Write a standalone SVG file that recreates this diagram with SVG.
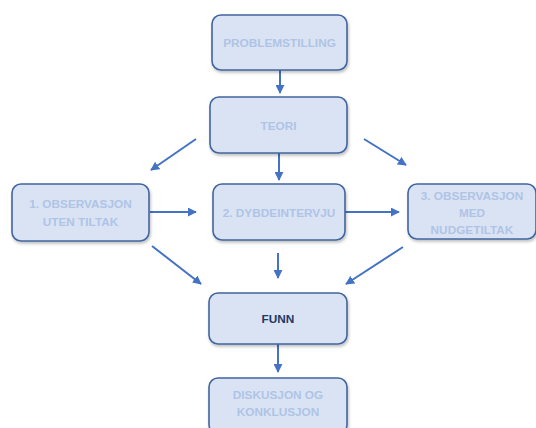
<svg xmlns="http://www.w3.org/2000/svg" width="536" height="428" viewBox="0 0 536 428">
  <defs>
    <marker id="arrow" viewBox="0 0 10 10" refX="9" refY="5" markerWidth="4.5" markerHeight="4.5" orient="auto" markerUnits="strokeWidth">
      <path d="M0,0 L10,5 L0,10 z" fill="#4472c4"/>
    </marker>
    <filter id="shadow" x="-10%" y="-10%" width="125%" height="130%">
      <feDropShadow dx="1" dy="2" stdDeviation="1.5" flood-color="#000" flood-opacity="0.25"/>
    </filter>
  </defs>
  <style>
    .box { fill: #dae3f3; stroke: #41659f; stroke-width: 1.6; filter: url(#shadow); }
    .lbl { font-family: "Liberation Sans", Arial, sans-serif; font-weight: bold; font-size: 11.8px; fill: #afc3e6; text-anchor: middle; }
    .dark { fill: #1f3864; }
    .edge { stroke: #4472c4; stroke-width: 2; fill: none; marker-end: url(#arrow); }
  </style>
  <rect width="536" height="428" fill="#ffffff"/>

  <g id="connectors">
    <line class="edge" x1="280" y1="70" x2="280" y2="93"/>
    <line class="edge" x1="279" y1="153" x2="279" y2="180"/>
    <line class="edge" x1="196" y1="139" x2="151" y2="170"/>
    <line class="edge" x1="364" y1="139" x2="406" y2="165"/>
    <line class="edge" x1="150" y1="212" x2="196" y2="212"/>
    <line class="edge" x1="345" y1="212" x2="399" y2="212"/>
    <line class="edge" x1="152" y1="246" x2="201" y2="284"/>
    <line class="edge" x1="278" y1="253" x2="278" y2="278"/>
    <line class="edge" x1="403" y1="247" x2="346" y2="284"/>
    <line class="edge" x1="278" y1="344" x2="278" y2="372"/>
  </g>

  <g id="problemstilling">
    <rect class="box" x="212" y="15" width="135" height="55" rx="9"/>
    <text class="lbl" x="279.5" y="47">PROBLEMSTILLING</text>
  </g>
  <g id="teori">
    <rect class="box" x="210" y="97" width="137" height="56" rx="9"/>
    <text class="lbl" x="278.5" y="129.5">TEORI</text>
  </g>
  <g id="observasjon1">
    <rect class="box" x="12" y="184" width="137" height="57" rx="9"/>
    <text class="lbl" x="80.5" y="207.5">1. OBSERVASJON</text>
    <text class="lbl" x="80.5" y="225.5">UTEN TILTAK</text>
  </g>
  <g id="dybdeintervju">
    <rect class="box" x="213" y="184" width="132" height="56" rx="9"/>
    <text class="lbl" x="279" y="216.5">2. DYBDEINTERVJU</text>
  </g>
  <g id="observasjon3">
    <rect class="box" x="408" y="184" width="128" height="55" rx="9"/>
    <text class="lbl" x="472" y="200">3. OBSERVASJON</text>
    <text class="lbl" x="472" y="216.5">MED</text>
    <text class="lbl" x="472" y="233.5">NUDGETILTAK</text>
  </g>
  <g id="funn">
    <rect class="box" x="209" y="293" width="138" height="51" rx="9"/>
    <text class="lbl dark" x="278" y="323">FUNN</text>
  </g>
  <g id="diskusjon">
    <rect class="box" x="209" y="378" width="138" height="56" rx="9"/>
    <text class="lbl" x="278" y="399">DISKUSJON OG</text>
    <text class="lbl" x="278" y="416">KONKLUSJON</text>
  </g>
</svg>
